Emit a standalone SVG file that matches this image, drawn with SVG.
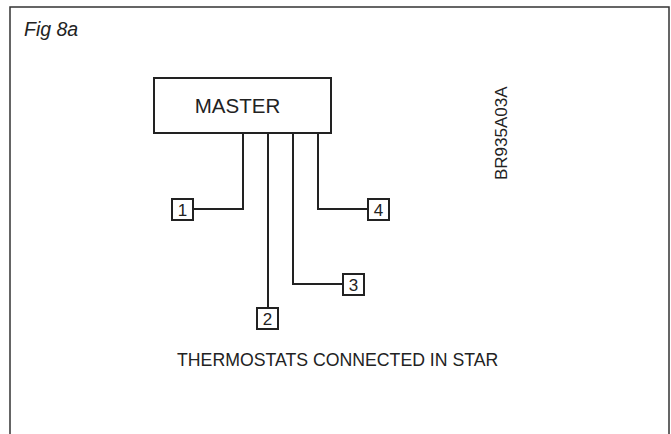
<svg xmlns="http://www.w3.org/2000/svg" width="671" height="434" viewBox="0 0 671 434">
<style>
.frame{fill:none;stroke:#333;stroke-width:1.5}
.box{fill:#fff;stroke:#222;stroke-width:2}
.wire{fill:none;stroke:#222;stroke-width:2}
text{font-family:"Liberation Sans",Arial,sans-serif;fill:#222}
.num{font-size:17px;text-anchor:middle}
</style>
<rect width="671" height="434" fill="#fff"/>
<path class="frame" d="M10,434 V7 H669 V434"/>
<text x="24" y="36" font-size="19.5" font-style="italic">Fig 8a</text>
<text transform="translate(507,180) rotate(-90)" font-size="17">BR935A03A</text>
<g id="connectors">
<path class="wire" d="M243,133 V209 H193"/>
<path class="wire" d="M268,133 V308"/>
<path class="wire" d="M293,133 V284 H343"/>
<path class="wire" d="M318,133 V209 H368"/>
</g>
<g id="master">
<rect class="box" x="154" y="78" width="177" height="55"/>
<text x="237.5" y="113" font-size="20.5" text-anchor="middle">MASTER</text>
</g>
<g id="t1"><rect class="box" x="172" y="199" width="21" height="21"/><text class="num" x="182.5" y="216">1</text></g>
<g id="t2"><rect class="box" x="257" y="308" width="21" height="21"/><text class="num" x="267.5" y="325">2</text></g>
<g id="t3"><rect class="box" x="343" y="274" width="21" height="21"/><text class="num" x="353.5" y="291">3</text></g>
<g id="t4"><rect class="box" x="368" y="199" width="21" height="21"/><text class="num" x="378.5" y="216">4</text></g>
<text x="177" y="366" font-size="17.7">THERMOSTATS CONNECTED IN STAR</text>
</svg>
